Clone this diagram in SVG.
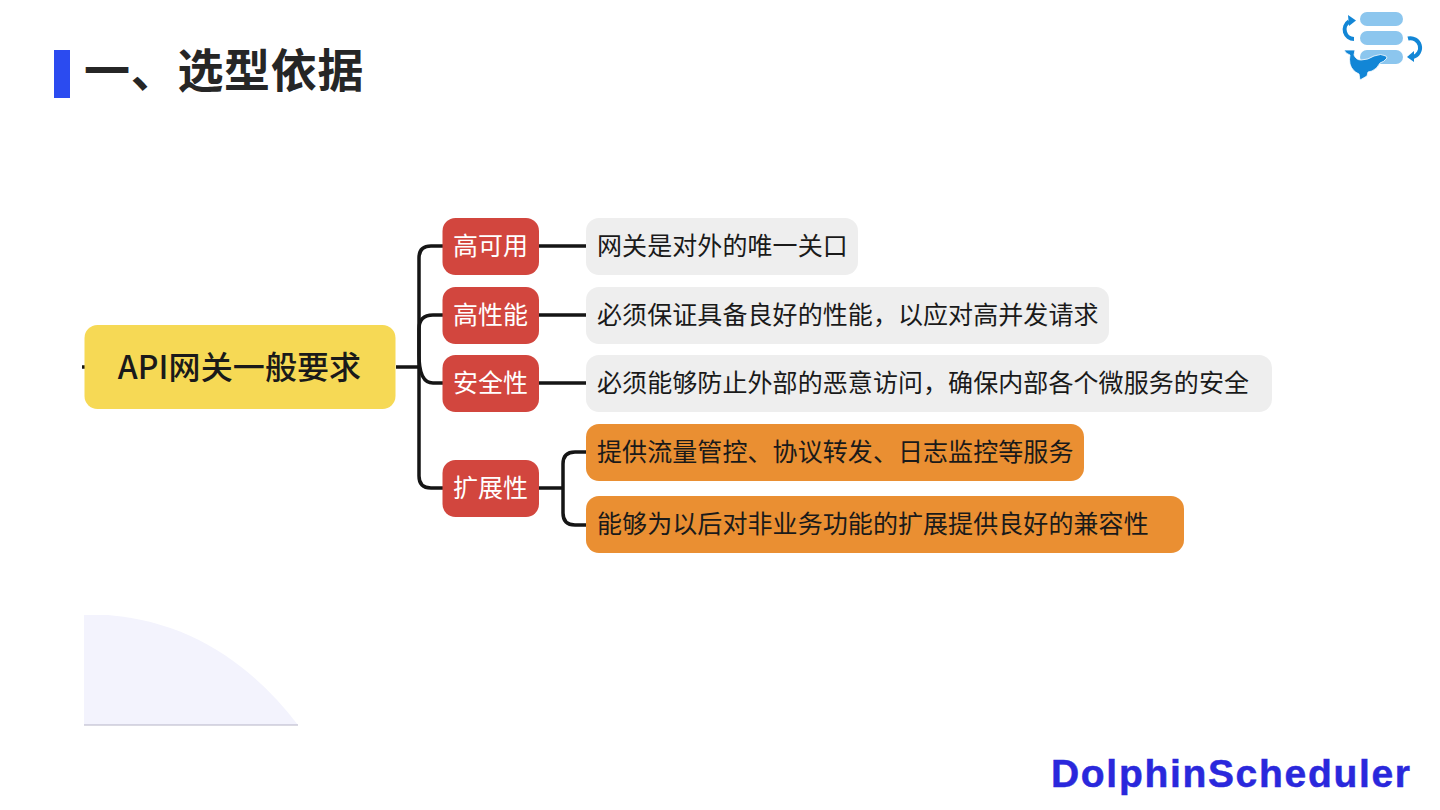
<svg xmlns="http://www.w3.org/2000/svg" width="1440" height="810" viewBox="0 0 1440 810">
<style>
text{font-family:"Noto Sans CJK SC","Noto Sans",sans-serif}
.t{font-size:25px;fill:#1a1a1a;letter-spacing:.08px}
.w{font-size:25px;fill:#fff;text-anchor:middle}
.c{fill:none;stroke:#151515;stroke-width:3.5}
.r{fill:#d2463e}
.g{fill:#eeeeee}
.o{fill:#ea8f32}
.b{fill:#8cc6ee}
.a{fill:none;stroke:#1286d6;stroke-width:4}
.h{fill:#1286d6}
</style>
<rect width="1440" height="810" fill="#fff"/>
<g id="title">
<rect x="54" y="50" width="16" height="48" fill="#2b4bf0"/>
<text x="84" y="87" font-size="46" font-weight="700" fill="#262626" letter-spacing=".7">一、选型依据</text>
</g>
<g id="connectors">
<path class="c" d="M82 367H85M396 367H419"/>
<path class="c" d="M443 246H431Q419 246 419 258V476Q419 488 431 488H443"/>
<path class="c" d="M443 315H433Q419 315 419 329V355Q419 383 433 383H443"/>
<path class="c" d="M539 246H586M539 315H586M539 383H586M539 488H563"/>
<path class="c" d="M586 452H575Q563 452 563 464V513Q563 525 575 525H586"/>
</g>
<g id="root"><rect x="84.500" y="325" width="311" height="84" rx="13" fill="#f6d955"/><text x="239.500" y="379" font-size="32" font-weight="500" fill="#1a1a1a" text-anchor="middle" letter-spacing=".1">API网关一般要求</text></g>
<g id="n1"><rect class="r" x="442.500" y="218" width="96.500" height="57" rx="13"/><text class="w" x="490.500" y="255">高可用</text></g>
<g id="n2"><rect class="r" x="442.500" y="287" width="96.500" height="57" rx="13"/><text class="w" x="490.500" y="324">高性能</text></g>
<g id="n3"><rect class="r" x="442.500" y="355" width="96.500" height="57" rx="13"/><text class="w" x="490.500" y="392">安全性</text></g>
<g id="n4"><rect class="r" x="442.500" y="460" width="96.500" height="57" rx="13"/><text class="w" x="490.500" y="497">扩展性</text></g>
<g id="l1"><rect class="g" x="586" y="218" width="272" height="57" rx="13"/><text class="t" x="597" y="255">网关是对外的唯一关口</text></g>
<g id="l2"><rect class="g" x="586" y="287" width="523" height="57" rx="13"/><text class="t" x="597" y="324">必须保证具备良好的性能，以应对高并发请求</text></g>
<g id="l3"><rect class="g" x="586" y="355" width="686" height="57" rx="13"/><text class="t" x="597" y="392">必须能够防止外部的恶意访问，确保内部各个微服务的安全</text></g>
<g id="l4"><rect class="o" x="586" y="424" width="498" height="57" rx="13"/><text class="t" x="597" y="461">提供流量管控、协议转发、日志监控等服务</text></g>
<g id="l5"><rect class="o" x="586" y="496" width="598" height="57" rx="13"/><text class="t" x="597" y="533">能够为以后对非业务功能的扩展提供良好的兼容性</text></g>
<path id="quarter" d="M84 615H108C190 622 250 663 298 725H84Z" fill="#f3f3fd"/>
<path d="M84 725H298" stroke="#b5b3c6" stroke-width="1" fill="none"/>
<g id="logo">
<rect class="b" x="1360" y="12" width="43" height="14" rx="7"/>
<rect class="b" x="1360" y="31" width="43" height="14" rx="7"/>
<rect class="b" x="1360" y="50" width="43" height="14" rx="7"/>
<path class="a" d="M1354 39A9.500 9.500 0 0 1 1349 21.500"/>
<path class="h" d="M1348 15L1356 20.500L1349 26Z"/>
<path class="a" d="M1408 38.500A9.500 9.500 0 0 1 1413 57"/>
<path class="h" d="M1414 51L1407 57L1414 62Z"/>
<path class="h" stroke="#fff" stroke-width=".8" d="M1344 50L1355 50L1354 55Q1356 60 1361 60Q1368 60 1374 56Q1381 53 1386 56L1387 58Q1384 62 1380 63Q1377 69 1372 71L1368 72L1367 76L1360 80L1359 74Q1352 71 1350 64Q1349 59 1350 55Q1346 54 1344 50Z"/>
</g>
<text id="brand" x="1051" y="787" font-size="39" fill="#2a28dc" stroke="#2a28dc" stroke-width=".5" textLength="359" lengthAdjust="spacing" style="font-family:'Liberation Sans',sans-serif;font-weight:700">DolphinScheduler</text>
</svg>
